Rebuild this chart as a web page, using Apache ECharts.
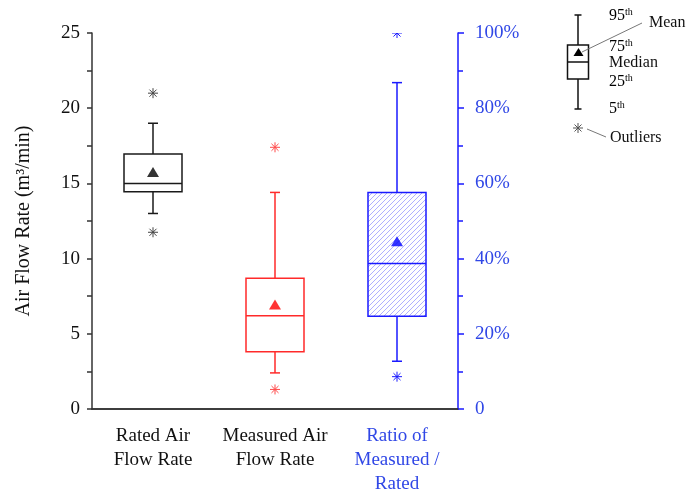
<!DOCTYPE html>
<html><head><meta charset="utf-8">
<script src="https://cdn.jsdelivr.net/npm/echarts@6/dist/echarts.min.js"></script>
<style>html,body{margin:0;padding:0;background:#fff}#c{width:693px;height:496px}</style>
</head><body><div id="c"></div>
<script>
// ---- data ----
var categories = ['Rated Air\nFlow Rate', 'Measured Air\nFlow Rate', 'Ratio of\nMeasured /\nRated'];
// [5th, 25th, median, 75th, 95th]
var ratedBox = [13.0, 14.45, 15.0, 16.95, 19.0];
var measuredBox = [2.4, 3.8, 6.2, 8.7, 14.4];
var ratioBox = [12.7, 24.7, 38.7, 57.6, 86.8]; // percent
var ratedMean = 15.75, measuredMean = 6.95, ratioMean = 44.6;
var ratedOutliers = [21.0, 11.75];
var measuredOutliers = [17.4, 1.3];
var ratioOutliers = [100, 8.6];
var leftTicks = [0, 5, 10, 15, 20, 25];
var rightTicks = [0, 20, 40, 60, 80, 100];

var BLACK = '#1a1a1a', RED = '#ff2a2a', BLUE = '#1a1aff', BLUE_TXT = '#3047e6';
var FONT = '"Liberation Serif", "Times New Roman", serif';

// hatch pattern
var pc = document.createElement('canvas');
pc.width = 5; pc.height = 5;
var pctx = pc.getContext('2d');
pctx.strokeStyle = '#8c8cff'; pctx.lineWidth = 0.7;
pctx.beginPath();
pctx.moveTo(0, 5); pctx.lineTo(5, 0);
pctx.moveTo(-1, 1); pctx.lineTo(1, -1);
pctx.moveTo(4, 6); pctx.lineTo(6, 4);
pctx.stroke();

function boxRender(color, fill) {
  return function (params, api) {
    var ci = api.value(0);
    var lo = api.coord([ci, api.value(1)]), q1 = api.coord([ci, api.value(2)]),
        md = api.coord([ci, api.value(3)]), q3 = api.coord([ci, api.value(4)]),
        hi = api.coord([ci, api.value(5)]);
    var x = lo[0], hw = 29, cw = 5;
    var ls = { stroke: color, lineWidth: 1.5 };
    return { type: 'group', children: [
      { type: 'rect', shape: { x: x - hw, y: q3[1], width: 2 * hw, height: q1[1] - q3[1] }, style: { fill: fill, stroke: color, lineWidth: 1.5 } },
      { type: 'line', shape: { x1: x - hw, y1: md[1], x2: x + hw, y2: md[1] }, style: ls },
      { type: 'line', shape: { x1: x, y1: q3[1], x2: x, y2: hi[1] }, style: ls },
      { type: 'line', shape: { x1: x, y1: q1[1], x2: x, y2: lo[1] }, style: ls },
      { type: 'line', shape: { x1: x - cw, y1: hi[1], x2: x + cw, y2: hi[1] }, style: ls },
      { type: 'line', shape: { x1: x - cw, y1: lo[1], x2: x + cw, y2: lo[1] }, style: ls }
    ]};
  };
}
function starRender(color) {
  return function (params, api) {
    var p = api.coord([api.value(0), api.value(1)]);
    var r = 5, d = r * 0.7071, s = { stroke: color, lineWidth: 1 };
    return { type: 'group', children: [
      { type: 'line', shape: { x1: p[0] - r, y1: p[1], x2: p[0] + r, y2: p[1] }, style: s },
      { type: 'line', shape: { x1: p[0], y1: p[1] - r, x2: p[0], y2: p[1] + r }, style: s },
      { type: 'line', shape: { x1: p[0] - d, y1: p[1] - d, x2: p[0] + d, y2: p[1] + d }, style: s },
      { type: 'line', shape: { x1: p[0] - d, y1: p[1] + d, x2: p[0] + d, y2: p[1] - d }, style: s }
    ]};
  };
}

var chart = echarts.init(document.getElementById('c'), null, { renderer: 'canvas' });
var lblStyle = { fontFamily: FONT, fontSize: 16, color: '#111' };
var sup = { fontFamily: FONT, fontSize: 10, color: '#111', padding: [0, 0, 7, 0] };

chart.setOption({
  animation: false,
  grid: { left: 92, right: 235, top: 33, bottom: 87 },
  xAxis: [{
    type: 'category', data: categories, boundaryGap: true,
    axisLine: { lineStyle: { color: '#333', width: 1.5 } },
    axisTick: { alignWithLabel: true, length: 6, lineStyle: { color: '#333', width: 1.5 } },
    axisLabel: {
      interval: 0, margin: 15, fontFamily: FONT, fontSize: 19, lineHeight: 24,
      color: function (v, i) { return i === 2 ? BLUE_TXT : '#111'; }
    }
  }, {
    type: 'category', data: categories, position: 'top',
    axisLine: { lineStyle: { color: '#333', width: 1.5 } },
    axisTick: { show: false }, axisLabel: { show: false }
  }],
  yAxis: [{
    type: 'value', min: 0, max: 25, interval: 5,
    name: 'Air Flow Rate (m³/min)', nameLocation: 'middle', nameGap: 58,
    nameTextStyle: { fontFamily: FONT, fontSize: 20, color: '#111' },
    axisLine: { show: true, lineStyle: { color: '#333', width: 1.5 } },
    axisTick: { show: true, length: 5, lineStyle: { color: '#333', width: 1.5 } },
    minorTick: { show: true, splitNumber: 2, length: 5, lineStyle: { color: '#333', width: 1.5 } },
    splitLine: { show: false },
    axisLabel: { margin: 12, fontFamily: FONT, fontSize: 19, color: '#111' }
  }, {
    type: 'value', min: 0, max: 100, interval: 20, position: 'right',
    axisLine: { show: true, lineStyle: { color: BLUE, width: 1.5 } },
    axisTick: { show: true, length: 6, lineStyle: { color: BLUE, width: 1.5 } },
    minorTick: { show: true, splitNumber: 2, length: 5, lineStyle: { color: BLUE, width: 1.5 } },
    splitLine: { show: false },
    axisLabel: { margin: 17, fontFamily: FONT, fontSize: 19, color: BLUE_TXT,
      formatter: function (v) { return v === 0 ? '0' : v + '%'; } }
  }],
  series: [
    { type: 'custom', yAxisIndex: 0, renderItem: boxRender(BLACK, '#fff'),
      data: [[0].concat(ratedBox)], z: 2 },
    { type: 'custom', yAxisIndex: 0, renderItem: boxRender(RED, '#fff'),
      data: [[1].concat(measuredBox)], z: 2 },
    { type: 'custom', yAxisIndex: 1, renderItem: boxRender(BLUE, { image: pc, repeat: 'repeat' }),
      data: [[2].concat(ratioBox)], z: 2 },
    { type: 'custom', yAxisIndex: 0, renderItem: starRender('#444'),
      data: ratedOutliers.map(function (v) { return [0, v]; }), z: 3 },
    { type: 'custom', yAxisIndex: 0, renderItem: starRender('#ff4a4a'),
      data: measuredOutliers.map(function (v) { return [1, v]; }), z: 3 },
    { type: 'custom', yAxisIndex: 1, renderItem: starRender(BLUE), clip: true,
      data: ratioOutliers.map(function (v) { return [2, v]; }), z: 3 },
    { type: 'scatter', yAxisIndex: 0, symbol: 'triangle', symbolSize: [12, 10],
      itemStyle: { color: '#000' }, data: [[0, ratedMean]], z: 4 },
    { type: 'scatter', yAxisIndex: 0, symbol: 'triangle', symbolSize: [12, 10],
      itemStyle: { color: '#ff0000' }, data: [[1, measuredMean]], z: 4 },
    { type: 'scatter', yAxisIndex: 1, symbol: 'triangle', symbolSize: [12, 10],
      itemStyle: { color: '#0000ff' }, data: [[2, ratioMean]], z: 4 }
  ],
  graphic: [
    // legend key box plot
    { type: 'rect', shape: { x: 567.5, y: 45, width: 21, height: 34 }, style: { fill: '#fff', stroke: '#111', lineWidth: 1.5 } },
    { type: 'line', shape: { x1: 567.5, y1: 62, x2: 588.5, y2: 62 }, style: { stroke: '#111', lineWidth: 1.5 } },
    { type: 'line', shape: { x1: 578, y1: 15, x2: 578, y2: 45 }, style: { stroke: '#111', lineWidth: 1.5 } },
    { type: 'line', shape: { x1: 578, y1: 79, x2: 578, y2: 109 }, style: { stroke: '#111', lineWidth: 1.5 } },
    { type: 'line', shape: { x1: 574.5, y1: 15, x2: 581.5, y2: 15 }, style: { stroke: '#111', lineWidth: 1.5 } },
    { type: 'line', shape: { x1: 574.5, y1: 109, x2: 581.5, y2: 109 }, style: { stroke: '#111', lineWidth: 1.5 } },
    { type: 'polygon', shape: { points: [[578.5, 48], [573.5, 56], [583.5, 56]] }, style: { fill: '#000' } },
    { type: 'line', shape: { x1: 582, y1: 52, x2: 642, y2: 23 }, style: { stroke: '#777', lineWidth: 1 } },
    { type: 'line', shape: { x1: 587, y1: 129, x2: 606, y2: 137 }, style: { stroke: '#777', lineWidth: 1 } },
    { type: 'group', children: [
      { type: 'line', shape: { x1: 573, y1: 128, x2: 583, y2: 128 }, style: { stroke: '#555', lineWidth: 1 } },
      { type: 'line', shape: { x1: 578, y1: 123, x2: 578, y2: 133 }, style: { stroke: '#555', lineWidth: 1 } },
      { type: 'line', shape: { x1: 574.5, y1: 124.5, x2: 581.5, y2: 131.5 }, style: { stroke: '#555', lineWidth: 1 } },
      { type: 'line', shape: { x1: 574.5, y1: 131.5, x2: 581.5, y2: 124.5 }, style: { stroke: '#555', lineWidth: 1 } }
    ]},
    { type: 'text', x: 609, y: 16, style: { text: '{a|95}{s|th}', rich: { a: lblStyle, s: sup }, verticalAlign: 'middle' } },
    { type: 'text', x: 649, y: 23, style: { text: 'Mean', font: '16px ' + FONT, fill: '#111', verticalAlign: 'middle' } },
    { type: 'text', x: 609, y: 47, style: { text: '{a|75}{s|th}', rich: { a: lblStyle, s: sup }, verticalAlign: 'middle' } },
    { type: 'text', x: 609, y: 63, style: { text: 'Median', font: '16px ' + FONT, fill: '#111', verticalAlign: 'middle' } },
    { type: 'text', x: 609, y: 82, style: { text: '{a|25}{s|th}', rich: { a: lblStyle, s: sup }, verticalAlign: 'middle' } },
    { type: 'text', x: 609, y: 109, style: { text: '{a|5}{s|th}', rich: { a: lblStyle, s: sup }, verticalAlign: 'middle' } },
    { type: 'text', x: 610, y: 138, style: { text: 'Outliers', font: '16px ' + FONT, fill: '#111', verticalAlign: 'middle' } }
  ]
});
</script></body></html>
